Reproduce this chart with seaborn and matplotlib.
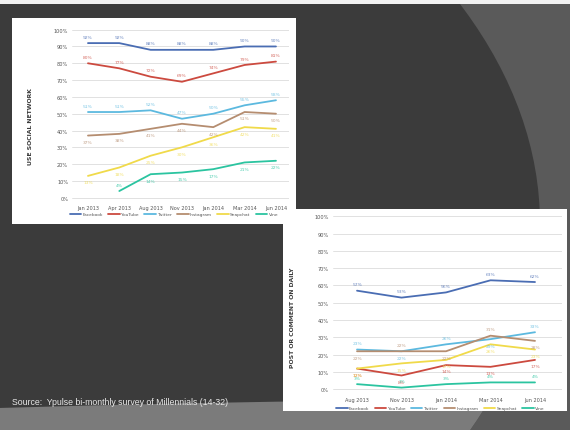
import numpy as np
import pandas as pd
import seaborn as sns
import matplotlib.pyplot as plt
from matplotlib.patches import Rectangle, Ellipse

platforms = ['Facebook', 'YouTube', 'Twitter', 'Instagram', 'Snapchat', 'Vine']
colors = ['#4a6db3', '#cc4a3f', '#5cb9df', '#b58d70', '#f0da4a', '#2bc4a0']

# top chart: use social network
months_use = ['Jan 2013', 'Apr 2013', 'Aug 2013', 'Nov 2013', 'Jan 2014', 'Mar 2014', 'Jun 2014']
use_facebook = [92, 92, 88, 88, 88, 90, 90]
use_youtube = [80, 77, 72, 69, 74, 79, 81]
use_twitter = [51, 51, 52, 47, 50, 55, 58]
use_instagram = [37, 38, 41, 44, 42, 51, 50]
use_snapchat = [13, 18, 25, 30, 36, 42, 41]
use_vine = [np.nan, 4, 14, 15, 17, 21, 22]

# bottom chart: post or comment on daily
months_post = ['Aug 2013', 'Nov 2013', 'Jan 2014', 'Mar 2014', 'Jun 2014']
post_facebook = [57, 53, 56, 63, 62]
post_youtube = [12, 8, 14, 13, 17]
post_twitter = [23, 22, 26, 29, 33]
post_instagram = [22, 22, 22, 31, 28]
post_snapchat = [12, 15, 17, 26, 23]
post_vine = [3, 1, 3, 4, 4]

source_text = 'Source:  Ypulse bi-monthly survey of Millennials (14-32)'

# label above (+1) or below (-1) the point
use_side = {
    'Facebook': [1] * 7, 'YouTube': [1] * 7, 'Twitter': [1] * 7,
    'Instagram': [-1] * 7, 'Snapchat': [-1] * 7, 'Vine': [1, 1, -1, -1, -1, -1, -1],
}
post_side = {
    'Facebook': [1] * 5, 'YouTube': [-1] * 5, 'Twitter': [1, -1, 1, -1, 1],
    'Instagram': [-1, 1, -1, 1, -1], 'Snapchat': [-1] * 5, 'Vine': [1] * 5,
}

W, H = 570, 431


def long_table(months, series):
    rows = []
    for name, vals in zip(platforms, series):
        for m, v in zip(months, vals):
            rows.append({'month': m, 'platform': name, 'share': v})
    return pd.DataFrame(rows).dropna()


def px_axes(fig, x0, y0, x1, y1):
    return fig.add_axes([x0 / W, 1 - y1 / H, (x1 - x0) / W, (y1 - y0) / H])


def draw_chart(ax, months, series, side, ylabel, xlim, label_xy, legend_y):
    df = long_table(months, series)
    sns.lineplot(data=df, x='month', y='share', hue='platform', hue_order=platforms,
                 palette=colors, sort=False, lw=1.3, ax=ax)
    ax.set_xlim(*xlim)
    ax.set_ylim(-2, 102)
    ax.set_yticks(range(0, 101, 10))
    ax.set_yticklabels([f'{t}%' for t in range(0, 101, 10)])
    ax.grid(axis='y', color='#dcdcdc', lw=0.6)
    ax.grid(axis='x', visible=False)
    ax.set_facecolor('none')
    for s in ax.spines.values():
        s.set_visible(False)
    ax.tick_params(length=0, labelsize=3.6, labelcolor='#555555', pad=3)
    ax.set_xlabel('')
    ax.set_ylabel(ylabel, fontsize=4.4, fontweight='bold', color='#3a3a3a')
    ax.yaxis.set_label_coords(*label_xy)
    for _, r in df.iterrows():
        i = months.index(r['month'])
        k = platforms.index(r['platform'])
        ax.annotate(f"{int(r['share'])}%", (i, r['share']),
                    xytext=(0, 4.6 * side[r['platform']][i]), textcoords='offset points',
                    ha='center', va='center', fontsize=3.2, color=colors[k], alpha=0.8)
    sns.move_legend(ax, 'center', bbox_to_anchor=(0.47, legend_y), ncol=6, frameon=False,
                    title=None, fontsize=3.2, handlelength=2.6, columnspacing=1.2,
                    handletextpad=0.3)
    for t in ax.get_legend().get_texts():
        t.set_color('#555555')


sns.set_style('white')
plt.rcParams['font.family'] = ['DejaVu Sans']

fig = plt.figure(figsize=(W / 100, H / 100), dpi=100)
fig.patch.set_facecolor('#5a5a5a')

# slide background
bg = fig.add_axes([0, 0, 1, 1], zorder=-10)
bg.set_xlim(0, W)
bg.set_ylim(H, 0)
bg.axis('off')
dark = Ellipse((-455, 225), 1990, 1120, fc='#3b3b3b', ec='none')
bg.add_patch(dark)
band = Ellipse((620, 582), 4000, 364, fc='#7b7b7b', ec='none')
bg.add_patch(band)
band.set_clip_path(dark)
bg.add_patch(Rectangle((0, 0), W, 5, fc='#f2f2f2', ec='none'))
bg.add_patch(Rectangle((12, 19), 284, 206, fc='white', ec='none'))
bg.add_patch(Rectangle((283, 210), 284, 202, fc='white', ec='none'))
bg.text(12, 403, source_text, va='center', ha='left', fontsize=6.3,
        color='#e8e8e8', family=['Liberation Sans', 'DejaVu Sans'])

ax1 = px_axes(fig, 72.3, 27.3, 288.5, 202.1)
draw_chart(ax1, months_use,
           [use_facebook, use_youtube, use_twitter, use_instagram, use_snapchat, use_vine],
           use_side, 'USE SOCIAL NETWORK', (-0.5, 6.4), (-0.18, 0.43), -0.075)

ax2 = px_axes(fig, 333, 213.8, 561.7, 393.8)
draw_chart(ax2, months_post,
           [post_facebook, post_youtube, post_twitter, post_instagram, post_snapchat, post_vine],
           post_side, 'POST OR COMMENT ON DAILY', (-0.54, 4.6), (-0.166, 0.424), -0.085)

fig.savefig('out.png', dpi=100, facecolor=fig.get_facecolor())
